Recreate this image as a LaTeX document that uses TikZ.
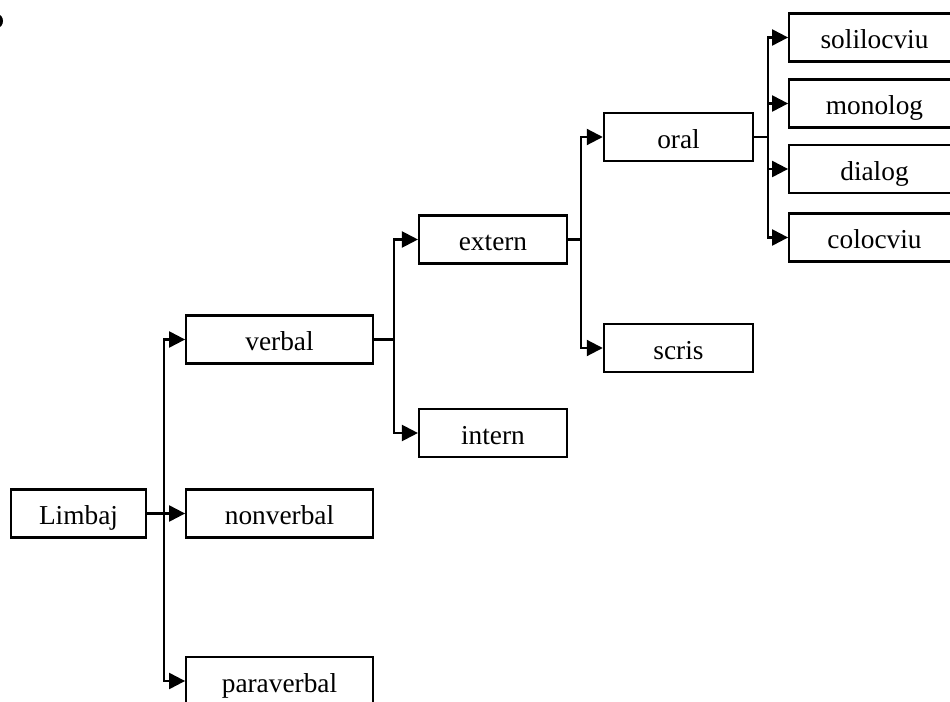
\documentclass[tikz,border=0pt]{standalone}
\usepackage{fontspec}
\setmainfont{Liberation Serif}
\usetikzlibrary{arrows.meta}
\tikzset{
  box/.style={draw, line width=1.6pt, rectangle, inner sep=0pt,
    minimum height=36pt, text height=17pt, text depth=0pt,
    font=\fontsize{20.5}{24}\selectfont},
  link/.style={line width=1.6pt},
  arr/.style={line width=1.6pt, -{Triangle[length=12pt,width=12pt]}}
}
\begin{document}
\begin{tikzpicture}[x=0.75pt,y=-0.75pt]
\useasboundingbox (0,0) rectangle (950,702);
\clip (0,0) rectangle (950,702);

% stray mark at the left border
\fill (-3,21) ellipse [x radius=6, y radius=7];

% level 0 and 1
\node[box, minimum width=101pt] (limbaj) at (78.5,513.5) {Limbaj};
\node[box, minimum width=140pt] (verbal) at (279.5,339.5) {verbal};
\node[box, minimum width=140pt] (nonverbal) at (279.5,513.5) {nonverbal};
\node[box, minimum width=140pt] (paraverbal) at (279.5,681) {paraverbal};

% level 2
\node[box, minimum width=111pt] (extern) at (493,239.5) {extern};
\node[box, minimum width=111pt] (intern) at (493,433) {intern};

% level 3
\node[box, minimum width=112pt] (oral) at (678.5,137) {oral};
\node[box, minimum width=112pt] (scris) at (678.5,348) {scris};

% level 4
\node[box, minimum width=128pt] (solilocviu) at (874.5,37.5) {solilocviu};
\node[box, minimum width=128pt] (monolog) at (874.5,103.5) {monolog};
\node[box, minimum width=128pt] (dialog) at (874.5,169) {dialog};
\node[box, minimum width=128pt] (colocviu) at (874.5,237.5) {colocviu};

% vertical distribution lines
\coordinate (t0) at (164,0);
\coordinate (t1) at (394,0);
\coordinate (t2) at (581,0);
\coordinate (t3) at (768,0);

% Limbaj fan-out
\draw[arr] (limbaj.east) -- (nonverbal.west);
\draw[arr] (limbaj.east -| t0) |- (verbal.west);
\draw[arr] (limbaj.east -| t0) |- (paraverbal.west);

% verbal fan-out
\draw[link] (verbal.east) -- (verbal.east -| t1);
\draw[arr] (verbal.east -| t1) |- (extern.west);
\draw[arr] (verbal.east -| t1) |- (intern.west);

% extern fan-out
\draw[link] (extern.east) -- (extern.east -| t2);
\draw[arr] (extern.east -| t2) |- (oral.west);
\draw[arr] (extern.east -| t2) |- (scris.west);

% oral fan-out
\draw[link] (oral.east) -- (oral.east -| t3);
\draw[arr] (oral.east -| t3) |- (solilocviu.west);
\draw[arr] (oral.east -| t3) |- (monolog.west);
\draw[arr] (oral.east -| t3) |- (dialog.west);
\draw[arr] (oral.east -| t3) |- (colocviu.west);
\end{tikzpicture}
\end{document}
